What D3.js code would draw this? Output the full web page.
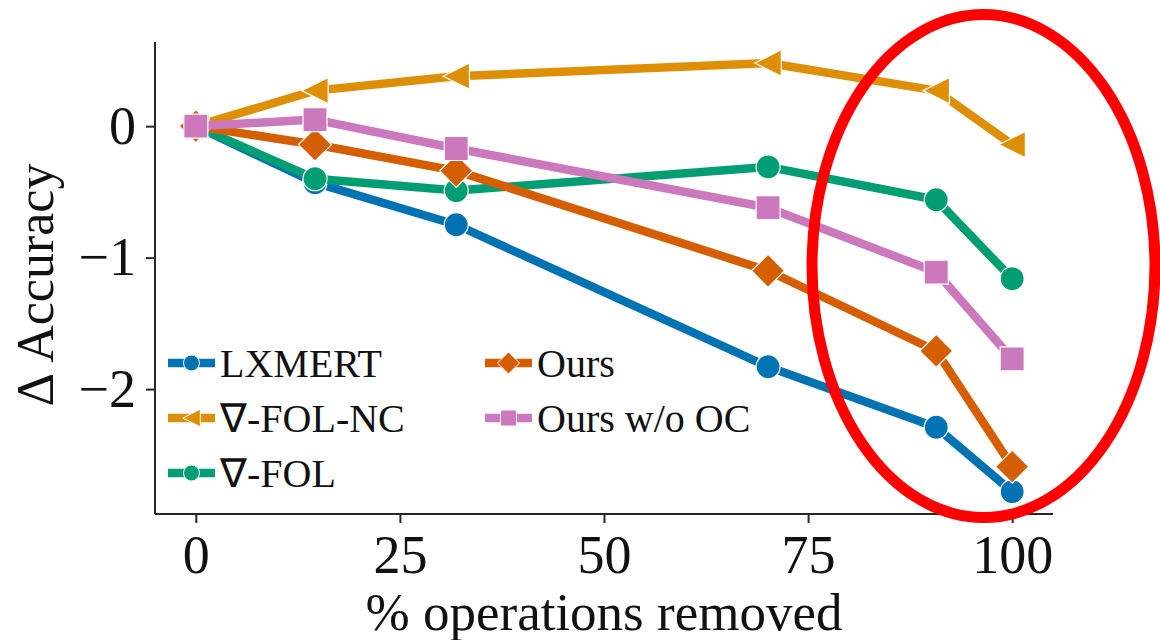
<!DOCTYPE html>
<html>
<head>
<meta charset="utf-8">
<script src="https://cdn.jsdelivr.net/npm/d3@7"></script>
<style>
  html, body { margin: 0; padding: 0; background: #fff; }
  svg { display: block; }
</style>
</head>
<body>
<div id="chart"></div>
<script>
// Share of operations removed (x) and the change in accuracy for each model
const removed = [0, 14.6, 31.9, 70.1, 90.7, 100];
const lxmert    = [0, -0.43, -0.75, -1.83, -2.29, -2.78];
const folNC     = [0, 0.27, 0.38, 0.48, 0.27, -0.14];
const fol       = [0, -0.40, -0.49, -0.31, -0.56, -1.16];
const ours      = [0, -0.14, -0.34, -1.10, -1.71, -2.59];
const oursNoOC  = [0, 0.05, -0.17, -0.62, -1.11, -1.77];

const seriesNames = ["LXMERT", "∇-FOL-NC", "∇-FOL", "Ours", "Ours w/o OC"];
const xTicks = [0, 25, 50, 75, 100];
const yTicks = [0, -1, -2];

const series = [
  { name: seriesNames[0], values: lxmert,   color: "#0173b2", shape: "circle" },
  { name: seriesNames[1], values: folNC,    color: "#de8f05", shape: "triangleLeft" },
  { name: seriesNames[2], values: fol,      color: "#029e73", shape: "circle" },
  { name: seriesNames[3], values: ours,     color: "#d55e00", shape: "diamond" },
  { name: seriesNames[4], values: oursNoOC, color: "#cc78bc", shape: "square" }
];

const W = 1160, H = 640;
const font = "'Liberation Serif', 'Times New Roman', serif";

const svg = d3.select("#chart").append("svg")
  .attr("width", W).attr("height", H);

const x = d3.scaleLinear().domain([-5, 105]).range([155, 1053]);
const y = d3.scaleLinear().domain([-2.95, 0.64]).range([514, 42]);

// marker path generator centred on (0,0)
function markerPath(shape, s) {
  switch (shape) {
    case "circle":
      return d3.symbol().type(d3.symbolCircle).size(Math.PI * s * s)();
    case "square":
      return `M${-s},${-s}H${s}V${s}H${-s}Z`;
    case "diamond": {
      const d = s * 1.38;
      return `M0,${-d}L${d},0L0,${d}L${-d},0Z`;
    }
    case "triangleLeft": {
      const a = s * 1.1;
      return `M${-a},0L${a},${-a}L${a},${a}Z`;
    }
  }
}

// axes
const axisColor = "#262626";
const xAxis = svg.append("g").attr("transform", `translate(0,514)`)
  .call(d3.axisBottom(x).tickValues(xTicks).tickSize(9).tickPadding(12).tickFormat(d3.format("d")));
const yAxis = svg.append("g").attr("transform", `translate(155,0)`)
  .call(d3.axisLeft(y).tickValues(yTicks).tickSize(9).tickPadding(10)
    .tickFormat(d => d < 0 ? "\u2212" + Math.abs(d) : String(d)));

[xAxis, yAxis].forEach(g => {
  g.select(".domain").attr("stroke", axisColor).attr("stroke-width", 2);
  g.selectAll(".tick line").attr("stroke", axisColor).attr("stroke-width", 2);
  g.selectAll(".tick text").attr("fill", "#111").style("font-family", font).style("font-size", "54px");
});
xAxis.select(".domain").attr("d", "M155,0H1053");
yAxis.select(".domain").attr("d", "M0,42V514");

// axis titles
svg.append("text")
  .attr("x", 604).attr("y", 630)
  .attr("text-anchor", "middle")
  .style("font-family", font).style("font-size", "53px").attr("fill", "#111")
  .text("% operations removed");

svg.append("text")
  .attr("transform", "translate(53,285) rotate(-90)")
  .attr("text-anchor", "middle")
  .style("font-family", font).style("font-size", "52px").attr("fill", "#111")
  .text("Δ Accuracy");

// lines and markers
const line = d3.line().x((d, i) => x(removed[i])).y(d => y(d));

series.forEach(s => {
  const g = svg.append("g");
  g.append("path")
    .attr("d", line(s.values))
    .attr("fill", "none")
    .attr("stroke", s.color)
    .attr("stroke-width", 8.5)
    .attr("stroke-linejoin", "round");
  g.selectAll("path.m").data(s.values).enter().append("path")
    .attr("class", "m")
    .attr("d", markerPath(s.shape, 12))
    .attr("transform", (d, i) => `translate(${x(removed[i])},${y(d)})`)
    .attr("fill", s.color)
    .attr("stroke", "#fff")
    .attr("stroke-width", 1.2);
});

// legend
const legendPos = [
  { hx: 168, row: 0 }, { hx: 168, row: 1 }, { hx: 168, row: 2 },
  { hx: 485, row: 0 }, { hx: 485, row: 1 }
];
series.forEach((s, i) => {
  const p = legendPos[i];
  const base = 377 + p.row * 55;
  const ly = base - 14;
  const g = svg.append("g");
  g.append("line")
    .attr("x1", p.hx).attr("x2", p.hx + 47)
    .attr("y1", ly).attr("y2", ly)
    .attr("stroke", s.color).attr("stroke-width", 8.5);
  g.append("path")
    .attr("d", markerPath(s.shape, 8))
    .attr("transform", `translate(${p.hx + 23.5},${ly})`)
    .attr("fill", s.color).attr("stroke", "#fff").attr("stroke-width", 1);
  g.append("text")
    .attr("x", p.hx + 52).attr("y", base)
    .style("font-family", font).style("font-size", "40px").attr("fill", "#111")
    .text(s.name);
});

// highlight around the last two removal levels
svg.append("ellipse")
  .attr("cx", 983.5).attr("cy", 266)
  .attr("rx", 171.5).attr("ry", 251.5)
  .attr("fill", "none")
  .attr("stroke", "#ff0000")
  .attr("stroke-width", 11);
</script>
</body>
</html>
